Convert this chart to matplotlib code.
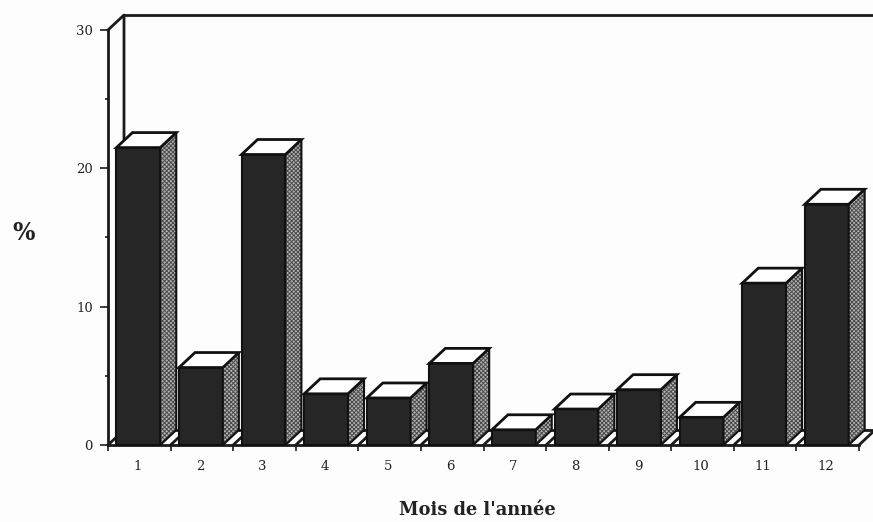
import matplotlib
matplotlib.use('Agg')
import matplotlib.pyplot as plt
from matplotlib.patches import Polygon

months = [str(i) for i in range(1, 13)]
percent = [21.5, 5.6, 21.0, 3.7, 3.4, 5.9, 1.1, 2.6, 4.0, 2.0, 11.7, 17.4]

W, H = 873, 522
FONT = 'DejaVu Serif'
plt.rcParams['font.family'] = FONT
plt.rcParams['hatch.linewidth'] = 0.7

fig = plt.figure(figsize=(W / 100, H / 100), dpi=100, facecolor='#fdfdfd')
# axes box in pixels: left 108, right 859, bottom 445, top 30
ax = fig.add_axes([108 / W, 1 - 445 / H, (859 - 108) / W, (445 - 30) / H])
ax.set_xlim(0, 12)
ax.set_ylim(0, 30)
ax.patch.set_alpha(0)

# depth of the fake 3d, in data units
dx = 16 / (751 / 12)
dy = 15 / (415 / 30)
bar_w = 0.70
bar_off = 0.135

# back wall and floor
line = dict(color='#1a1a1a', lw=2.0, clip_on=False, zorder=1)
ax.plot([0, dx, dx], [30, 30 + dy, dy], **line)
ax.plot([dx, 12.22], [30 + dy, 30 + dy], **line)
ax.plot([0, dx], [0, dy], **line)
ax.plot([dx, 12 + dx], [dy, dy], **line)
for i in range(1, 13):
    ax.plot([i, i + dx], [0, dy], **line)

for i, v in enumerate(percent):
    x0 = i + bar_off
    x1 = x0 + bar_w
    ax.bar(x0, v, width=bar_w, align='edge', color='#262626', edgecolor='#111111',
           linewidth=1.5, zorder=3, clip_on=False)
    side = [(x1, 0), (x1 + dx, dy), (x1 + dx, v + dy), (x1, v)]
    ax.add_patch(Polygon(side, closed=True, facecolor='#b4b4b4', edgecolor='#4a4a4a',
                         hatch='xxxxxxxx', linewidth=0, zorder=3, clip_on=False))
    ax.add_patch(Polygon(side, closed=True, facecolor='none', edgecolor='#111111',
                         linewidth=1.5, zorder=4, clip_on=False))
    top = [(x0, v), (x1, v), (x1 + dx, v + dy), (x0 + dx, v + dy)]
    ax.add_patch(Polygon(top, closed=True, facecolor='white', edgecolor='#111111',
                         linewidth=2.0, zorder=4, clip_on=False))

for s in ['top', 'right']:
    ax.spines[s].set_visible(False)
for s in ['left', 'bottom']:
    ax.spines[s].set_linewidth(2.0)
    ax.spines[s].set_color('#1a1a1a')

ax.set_xticks(range(0, 13))
ax.set_xticklabels([])
ax.set_xticks([i + 0.47 for i in range(12)], minor=True)
ax.set_xticklabels(months, minor=True, fontsize=9.5, color='#222222')
ax.tick_params(axis='x', which='major', length=4, width=1.2, color='#1a1a1a')
ax.tick_params(axis='x', which='minor', length=0, pad=11)

ax.set_yticks([0, 10, 20, 30])
ax.set_yticks([5, 15, 25], minor=True)
ax.tick_params(axis='y', which='major', length=6, width=1.2, labelsize=9.5, pad=5,
               labelcolor='#222222', color='#1a1a1a')
ax.tick_params(axis='y', which='minor', length=2.5, width=1.2, color='#1a1a1a')

fig.text(24 / W, 1 - 233 / H, '%', fontsize=17, fontweight='bold', ha='center', va='center',
         color='#222222')
fig.text(477 / W, 1 - 510 / H, "Mois de l'année", fontsize=12.8, fontweight='bold',
         ha='center', va='center', color='#222222')

fig.savefig('out.png', dpi=100, facecolor=fig.get_facecolor())
